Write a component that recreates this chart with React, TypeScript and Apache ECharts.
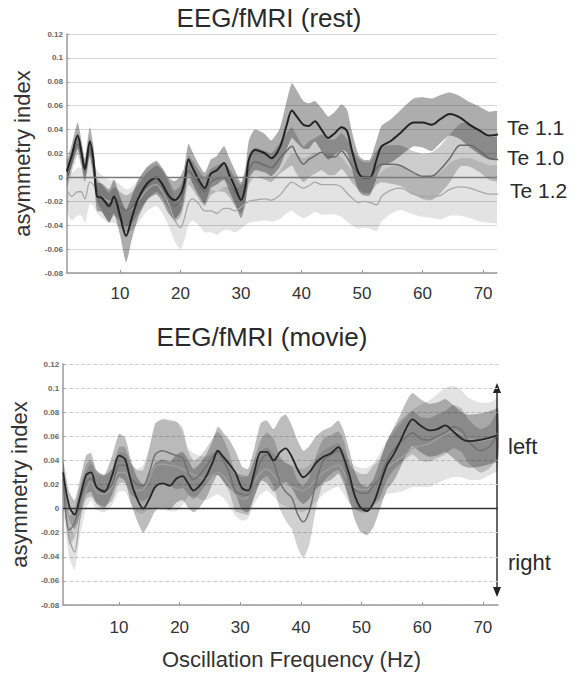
import React, { useEffect, useRef } from "react";
import * as echarts from "echarts";

// ---------- top panel: EEG/fMRI (rest) ----------
const FREQ_REST = [1.2, 2, 3, 3.6, 4.2, 5, 5.6, 6.2, 7, 8.2, 9, 10, 11, 12, 13, 14.5, 16, 17, 18, 19, 20, 20.6, 21.3, 22, 23, 24, 25, 26, 27.2, 28, 29, 30, 30.7, 31.3, 32.3, 34, 35, 36.4, 37.5, 38.4, 39.2, 40.3, 41.2, 42.2, 43.3, 44.4, 45.5, 46.6, 47.5, 48.3, 49.4, 50.2, 51.3, 52.4, 53.2, 54.6, 56.3, 58.5, 60, 61.5, 63, 64.5, 66.2, 67.8, 69.5, 71, 72.5];

const TE11_MEAN = [0.005, 0.018, 0.035, 0.022, 0.007, 0.03, 0.015, -0.016, -0.017, -0.024, -0.016, -0.032, -0.049, -0.033, -0.018, -0.005, 0.0, -0.006, -0.015, -0.019, -0.014, -0.005, 0.015, 0.008, -0.002, -0.009, 0.003, 0.006, 0.012, 0.003, -0.008, -0.019, -0.008, 0.015, 0.023, 0.02, 0.016, 0.025, 0.043, 0.056, 0.051, 0.044, 0.043, 0.047, 0.04, 0.033, 0.037, 0.042, 0.039, 0.023, 0.004, 0.0, 0.0, 0.015, 0.026, 0.03, 0.037, 0.046, 0.046, 0.044, 0.049, 0.053, 0.05, 0.044, 0.039, 0.035, 0.036];
const TE11_ERR = [0.008, 0.009, 0.011, 0.01, 0.009, 0.012, 0.012, 0.012, 0.012, 0.014, 0.014, 0.016, 0.022, 0.018, 0.016, 0.014, 0.014, 0.014, 0.015, 0.016, 0.015, 0.013, 0.013, 0.013, 0.013, 0.013, 0.012, 0.012, 0.014, 0.014, 0.014, 0.015, 0.015, 0.016, 0.017, 0.016, 0.015, 0.016, 0.02, 0.023, 0.022, 0.02, 0.019, 0.017, 0.018, 0.018, 0.018, 0.019, 0.018, 0.016, 0.015, 0.015, 0.015, 0.016, 0.017, 0.018, 0.019, 0.02, 0.021, 0.022, 0.02, 0.018, 0.018, 0.019, 0.02, 0.02, 0.019];

const TE10_MEAN = [-0.002, 0.012, 0.028, 0.018, 0.004, 0.024, 0.012, -0.01, -0.017, -0.025, -0.02, -0.024, -0.028, -0.025, -0.018, -0.007, -0.001, -0.005, -0.014, -0.024, -0.02, -0.01, 0.006, 0.002, -0.006, -0.012, -0.004, -0.001, 0.0, -0.004, -0.012, -0.018, -0.008, 0.006, 0.013, 0.01, 0.008, 0.016, 0.022, 0.026, 0.019, 0.011, 0.015, 0.018, 0.021, 0.017, 0.017, 0.022, 0.017, 0.01, 0.003, 0.0, 0.0, 0.008, 0.011, 0.011, 0.01, 0.004, 0.001, 0.001, 0.007, 0.016, 0.027, 0.027, 0.022, 0.016, 0.015];
const TE10_ERR = [0.007, 0.008, 0.009, 0.009, 0.008, 0.009, 0.01, 0.01, 0.011, 0.012, 0.012, 0.012, 0.013, 0.013, 0.012, 0.011, 0.011, 0.011, 0.012, 0.013, 0.013, 0.012, 0.012, 0.012, 0.012, 0.012, 0.011, 0.011, 0.012, 0.012, 0.012, 0.012, 0.012, 0.012, 0.012, 0.012, 0.012, 0.013, 0.015, 0.016, 0.016, 0.015, 0.015, 0.015, 0.015, 0.015, 0.015, 0.015, 0.015, 0.014, 0.013, 0.013, 0.013, 0.014, 0.015, 0.016, 0.017, 0.018, 0.019, 0.02, 0.02, 0.02, 0.018, 0.018, 0.018, 0.018, 0.018];

const TE12_MEAN = [-0.01, -0.016, -0.012, -0.012, -0.018, -0.004, -0.006, -0.012, -0.016, -0.02, -0.02, -0.024, -0.028, -0.026, -0.02, -0.01, -0.006, -0.012, -0.022, -0.035, -0.042, -0.035, -0.022, -0.018, -0.022, -0.028, -0.028, -0.03, -0.026, -0.026, -0.028, -0.025, -0.022, -0.02, -0.019, -0.018, -0.019, -0.015, -0.008, -0.004, -0.006, -0.009, -0.007, -0.004, -0.006, -0.006, -0.006, -0.008, -0.013, -0.017, -0.021, -0.02, -0.021, -0.023, -0.016, -0.011, -0.009, -0.014, -0.016, -0.016, -0.015, -0.01, -0.008, -0.009, -0.012, -0.014, -0.014];
const TE12_ERR = [0.018, 0.02, 0.02, 0.02, 0.02, 0.018, 0.018, 0.018, 0.018, 0.018, 0.018, 0.018, 0.018, 0.018, 0.018, 0.018, 0.018, 0.018, 0.018, 0.018, 0.018, 0.018, 0.018, 0.018, 0.018, 0.018, 0.018, 0.018, 0.018, 0.018, 0.018, 0.018, 0.018, 0.018, 0.018, 0.018, 0.018, 0.02, 0.022, 0.024, 0.025, 0.025, 0.025, 0.025, 0.025, 0.025, 0.025, 0.025, 0.024, 0.023, 0.022, 0.022, 0.022, 0.022, 0.021, 0.02, 0.018, 0.017, 0.017, 0.018, 0.02, 0.022, 0.024, 0.025, 0.025, 0.024, 0.024];

// ---------- bottom panel: EEG/fMRI (movie) ----------
const FREQ_MOVIE = [0.8, 1.8, 2.7, 3.5, 4.6, 5.4, 6.3, 7.6, 8.9, 10, 11, 12, 13, 14, 15, 16, 17.2, 18.4, 19.5, 20.5, 21.4, 22.3, 23.3, 24.4, 25.5, 26.3, 27.2, 28.2, 29.2, 30.3, 31.3, 32.3, 33.4, 34.4, 35.5, 36.6, 37.5, 38.5, 39.5, 40.4, 41.4, 42.5, 43.7, 45, 46.2, 47.1, 48, 48.8, 49.8, 50.9, 52, 53, 54.2, 55.3, 56.4, 57.5, 58.4, 59.7, 61.2, 62.5, 63.8, 65.1, 66.5, 67.6, 69.6, 71.2, 72.5];

const MOVIE_A_MEAN = [0.03, 0.002, -0.005, 0.008, 0.028, 0.03, 0.018, 0.014, 0.028, 0.044, 0.041, 0.022, 0.008, 0.0, 0.008, 0.018, 0.021, 0.019, 0.025, 0.027, 0.021, 0.015, 0.019, 0.027, 0.039, 0.048, 0.043, 0.037, 0.03, 0.017, 0.015, 0.03, 0.047, 0.047, 0.04, 0.047, 0.05, 0.043, 0.032, 0.026, 0.03, 0.038, 0.043, 0.046, 0.051, 0.042, 0.028, 0.012, 0.001, -0.002, 0.005, 0.019, 0.036, 0.045, 0.056, 0.068, 0.074, 0.069, 0.065, 0.066, 0.069, 0.064, 0.058, 0.056, 0.057, 0.059, 0.061];
const MOVIE_A_ERR = [0.01, 0.012, 0.012, 0.014, 0.016, 0.016, 0.014, 0.014, 0.016, 0.018, 0.018, 0.018, 0.018, 0.02, 0.02, 0.02, 0.02, 0.02, 0.02, 0.02, 0.02, 0.018, 0.018, 0.018, 0.018, 0.02, 0.02, 0.02, 0.018, 0.018, 0.018, 0.02, 0.024, 0.026, 0.026, 0.028, 0.028, 0.026, 0.024, 0.022, 0.022, 0.022, 0.022, 0.022, 0.022, 0.022, 0.02, 0.02, 0.02, 0.02, 0.02, 0.02, 0.02, 0.022, 0.022, 0.022, 0.022, 0.022, 0.022, 0.022, 0.022, 0.022, 0.022, 0.022, 0.022, 0.022, 0.022];

const MOVIE_B_MEAN = [0.025, -0.018, -0.012, 0.005, 0.022, 0.025, 0.018, 0.015, 0.02, 0.036, 0.036, 0.025, 0.02, 0.019, 0.03, 0.045, 0.048, 0.046, 0.044, 0.042, 0.03, 0.024, 0.028, 0.035, 0.043, 0.046, 0.04, 0.03, 0.014, 0.012, 0.011, 0.025, 0.04, 0.045, 0.038, 0.021, 0.014, 0.009, -0.005, -0.011, -0.002, 0.022, 0.04, 0.045, 0.048, 0.04, 0.021, 0.016, 0.013, 0.013, 0.02, 0.025, 0.04, 0.049, 0.055, 0.06, 0.063, 0.058, 0.057, 0.06, 0.063, 0.068, 0.065, 0.056, 0.048, 0.052, 0.063];
const MOVIE_B_ERR = [0.012, 0.012, 0.012, 0.012, 0.014, 0.015, 0.013, 0.013, 0.013, 0.015, 0.015, 0.013, 0.012, 0.013, 0.02, 0.026, 0.026, 0.027, 0.028, 0.025, 0.018, 0.016, 0.015, 0.015, 0.016, 0.018, 0.018, 0.016, 0.016, 0.016, 0.016, 0.016, 0.017, 0.018, 0.02, 0.022, 0.024, 0.026, 0.028, 0.03, 0.028, 0.022, 0.018, 0.016, 0.016, 0.016, 0.016, 0.016, 0.016, 0.016, 0.016, 0.016, 0.016, 0.017, 0.018, 0.018, 0.018, 0.018, 0.018, 0.018, 0.018, 0.018, 0.018, 0.018, 0.018, 0.018, 0.018];

const MOVIE_C_MEAN = [0.015, -0.025, -0.036, -0.01, 0.015, 0.022, 0.014, 0.012, 0.018, 0.03, 0.03, 0.02, 0.015, 0.016, 0.025, 0.035, 0.037, 0.036, 0.035, 0.033, 0.03, 0.028, 0.026, 0.025, 0.028, 0.03, 0.027, 0.02, 0.012, 0.008, 0.01, 0.022, 0.03, 0.033, 0.028, 0.022, 0.02, 0.018, 0.016, 0.015, 0.018, 0.024, 0.03, 0.034, 0.036, 0.03, 0.022, 0.018, 0.016, 0.016, 0.02, 0.026, 0.034, 0.038, 0.042, 0.046, 0.05, 0.052, 0.054, 0.058, 0.062, 0.064, 0.062, 0.058, 0.056, 0.058, 0.062];
const MOVIE_C_ERR = [0.015, 0.015, 0.015, 0.015, 0.015, 0.015, 0.015, 0.015, 0.015, 0.016, 0.016, 0.016, 0.018, 0.02, 0.025, 0.035, 0.038, 0.038, 0.037, 0.03, 0.02, 0.018, 0.018, 0.018, 0.018, 0.018, 0.018, 0.018, 0.018, 0.018, 0.018, 0.018, 0.018, 0.018, 0.018, 0.018, 0.018, 0.018, 0.018, 0.018, 0.018, 0.018, 0.018, 0.018, 0.018, 0.018, 0.018, 0.018, 0.018, 0.018, 0.018, 0.02, 0.022, 0.025, 0.028, 0.03, 0.032, 0.034, 0.036, 0.037, 0.038, 0.038, 0.036, 0.034, 0.032, 0.03, 0.03];

const X_TICKS = [10, 20, 30, 40, 50, 60, 70];
const Y_MIN = -0.08;
const Y_MAX = 0.12;
const Y_STEP = 0.02;

const FONT = "'Liberation Sans', Arial, Helvetica, sans-serif";

function band(gridIdx: number, freqs: number[], mean: number[], err: number[], fill: string) {
  return {
    type: "custom",
    xAxisIndex: gridIdx,
    yAxisIndex: gridIdx,
    clip: true,
    silent: true,
    z: 1,
    data: [[freqs[0], mean[0]]],
    renderItem: (_p: any, api: any) => {
      const pts: number[][] = [];
      for (let i = 0; i < freqs.length; i++) pts.push(api.coord([freqs[i], mean[i] + err[i]]));
      for (let i = freqs.length - 1; i >= 0; i--) pts.push(api.coord([freqs[i], mean[i] - err[i]]));
      return { type: "polygon", shape: { points: pts, smooth: 0.2 }, style: { fill, stroke: "none" } };
    },
  };
}

function line(gridIdx: number, name: string, freqs: number[], mean: number[], color: string, width: number, extra: any = {}) {
  return {
    type: "line",
    name,
    xAxisIndex: gridIdx,
    yAxisIndex: gridIdx,
    data: freqs.map((f, i) => [f, mean[i]]),
    showSymbol: false,
    smooth: 0.3,
    z: 3,
    silent: true,
    lineStyle: { color, width },
    ...extra,
  };
}

function zeroLine(color: string) {
  return {
    silent: true,
    symbol: ["none", "none"],
    label: { show: false },
    lineStyle: { color, width: 1.4, type: "solid" },
    data: [{ yAxis: 0 }],
  };
}

function xAxis(gridIdx: number, min: number, max: number, margin: number, extra: any = {}) {
  return {
    type: "value",
    gridIndex: gridIdx,
    min,
    max,
    axisLine: { show: true, onZero: false, lineStyle: { color: "#9a9a9a", width: 1.5 } },
    axisTick: { show: true, inside: true, length: 3, customValues: X_TICKS, lineStyle: { color: "#9a9a9a" } },
    axisLabel: {
      customValues: X_TICKS,
      fontSize: 17,
      color: "#333",
      fontFamily: FONT,
      margin,
      formatter: (v: number) => (Math.abs(v % 10) < 1e-6 ? String(v) : ""),
    },
    splitLine: { show: false },
    ...extra,
  };
}

function yAxis(gridIdx: number, dashed: boolean) {
  return {
    type: "value",
    gridIndex: gridIdx,
    min: Y_MIN,
    max: Y_MAX,
    interval: Y_STEP,
    name: "asymmetry index",
    nameLocation: "middle",
    nameGap: 32,
    nameTextStyle: { fontSize: 22, color: "#333", fontFamily: FONT },
    axisLine: { show: true, onZero: false, lineStyle: { color: "#9a9a9a", width: 1.5 } },
    axisTick: { show: true, inside: true, length: 2, lineStyle: { color: "#9a9a9a" } },
    axisLabel: {
      fontSize: 8,
      fontWeight: "bold",
      color: "#666",
      fontFamily: FONT,
      margin: 4,
      formatter: (v: number) => String(Math.round(v * 100) / 100),
    },
    splitLine: {
      show: true,
      lineStyle: { color: dashed ? "#cfcfcf" : "#d6d6d6", width: 1, type: dashed ? [4, 2] : "solid" },
    },
  };
}

const textEl = (text: string, x: number, y: number, size: number, align: string = "left") => ({
  type: "text",
  x,
  y,
  silent: true,
  style: { text, fontSize: size, fontFamily: FONT, fill: "#2a2a2a", textAlign: align, textVerticalAlign: "middle" },
});

const option: any = {
  animation: false,
  backgroundColor: "#ffffff",
  textStyle: { fontFamily: FONT },
  grid: [
    { left: 67, top: 34, width: 430, height: 239 },
    { left: 62, top: 364, width: 436, height: 241 },
  ],
  xAxis: [
    xAxis(0, 1.24, 72.3, 12),
    xAxis(1, 0.8, 72.5, 14, {
      name: "Oscillation Frequency (Hz)",
      nameLocation: "middle",
      nameGap: 43,
      nameTextStyle: { fontSize: 22, color: "#333", fontFamily: FONT, padding: [0, 0, 0, 22] },
    }),
  ],
  yAxis: [yAxis(0, false), yAxis(1, true)],
  series: [
    band(0, FREQ_REST, TE12_MEAN, TE12_ERR, "rgba(0,0,0,0.11)"),
    band(0, FREQ_REST, TE10_MEAN, TE10_ERR, "rgba(0,0,0,0.2)"),
    band(0, FREQ_REST, TE11_MEAN, TE11_ERR, "rgba(0,0,0,0.32)"),
    line(0, "Te 1.2", FREQ_REST, TE12_MEAN, "#a8a8a8", 1.3),
    line(0, "Te 1.0", FREQ_REST, TE10_MEAN, "#6a6a6a", 1.5),
    line(0, "Te 1.1", FREQ_REST, TE11_MEAN, "#222222", 2, { markLine: zeroLine("#7a7a7a") }),

    band(1, FREQ_MOVIE, MOVIE_C_MEAN, MOVIE_C_ERR, "rgba(0,0,0,0.11)"),
    band(1, FREQ_MOVIE, MOVIE_B_MEAN, MOVIE_B_ERR, "rgba(0,0,0,0.18)"),
    band(1, FREQ_MOVIE, MOVIE_A_MEAN, MOVIE_A_ERR, "rgba(0,0,0,0.26)"),
    line(1, "movie C", FREQ_MOVIE, MOVIE_C_MEAN, "#a0a0a0", 1.3),
    line(1, "movie B", FREQ_MOVIE, MOVIE_B_MEAN, "#707070", 1.5),
    line(1, "movie A", FREQ_MOVIE, MOVIE_A_MEAN, "#262626", 1.8, { markLine: zeroLine("#333333") }),
  ],
  graphic: [
    textEl("EEG/fMRI (rest)", 269, 18, 26, "center"),
    textEl("EEG/fMRI (movie)", 262, 337, 26, "center"),
    textEl("Te 1.1", 507, 127, 21),
    textEl("Te 1.0", 507, 157, 21),
    textEl("Te 1.2", 510, 190, 21),
    textEl("left", 508, 446, 22),
    textEl("right", 508, 562, 22),
    { type: "line", silent: true, shape: { x1: 497, y1: 390, x2: 497, y2: 590 }, style: { stroke: "#333", lineWidth: 1.5 } },
    { type: "polygon", silent: true, shape: { points: [[497, 383], [493, 393], [501, 393]] }, style: { fill: "#222" } },
    { type: "polygon", silent: true, shape: { points: [[497, 597], [493, 587], [501, 587]] }, style: { fill: "#222" } },
  ],
};

export default function App() {
  const ref = useRef<HTMLDivElement>(null);
  useEffect(() => {
    document.body.style.margin = "0";
    const chart = echarts.init(ref.current as HTMLDivElement, null, { renderer: "svg" });
    chart.setOption(option);
    return () => chart.dispose();
  }, []);
  return <div ref={ref} style={{ width: 578, height: 675 }} />;
}
